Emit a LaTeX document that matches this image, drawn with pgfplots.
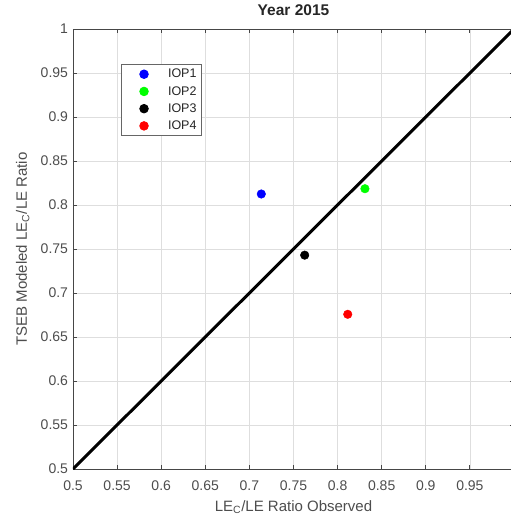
\documentclass[border=0pt]{standalone}
\usepackage{pgfplots}
\pgfplotsset{compat=1.18}
\usepackage{fontspec}
\setmainfont{Liberation Sans}
\definecolor{tickgray}{RGB}{77,77,77}
\definecolor{axgray}{RGB}{70,70,70}
\begin{document}
\begin{tikzpicture}[x=1pt,y=1pt]
\begin{axis}[name=ax, at={(0,0)}, anchor=south west,
  scale only axis, width=441pt, height=440pt,
  xmin=0.5, xmax=1, ymin=0.5, ymax=1,
  xtick={0.5,0.55,0.6,0.65,0.7,0.75,0.8,0.85,0.9,0.95},
  ytick={0.5,0.55,0.6,0.65,0.7,0.75,0.8,0.85,0.9,0.95,1},
  /pgf/number format/fixed,
  /pgf/number format/assume math mode=true,
  tick align=inside, major tick length=4pt,
  grid=major, grid style={draw=black!13, line width=0.6pt},
  axis line style={draw=axgray, line width=0.8pt},
  tick style={draw=axgray, line width=0.8pt},
  ticklabel style={font=\fontsize{14}{14}\selectfont, text=tickgray},
  xticklabel style={anchor=base, yshift=-21pt},
  yticklabel style={anchor=east, xshift=-1.5pt},
  title={\textbf{Year 2015}},
  title style={at={([yshift=8pt]axis description cs:0.5,1)}, anchor=base, font=\fontsize{15.5}{15.5}\selectfont, text=black!85},
  xlabel={LE\textsubscript{C}/LE Ratio Observed},
  xlabel style={at={([yshift=-42pt]axis description cs:0.5,0)}, anchor=base, font=\fontsize{15}{15}\selectfont, text=tickgray},
  ylabel={TSEB Modeled LE\textsubscript{C}/LE Ratio},
  ylabel style={at={([xshift=-46pt]axis description cs:0,0.5)}, anchor=base, rotate=0, font=\fontsize{15}{15}\selectfont, text=tickgray},
  legend style={at={(axis description cs:0.108,0.920)}, anchor=north west,
    draw=black!60, line width=0.8pt, font=\fontsize{12.5}{12.5}\selectfont, text=black!85,
    inner xsep=3pt, inner ysep=2.5pt, row sep=3pt},
  legend cell align=left,
  legend image code/.code={\path[mark repeat=2,mark phase=2,#1] plot coordinates {(0pt,0pt)(20pt,0pt)(42pt,0pt)};},
]
\addplot[black, line width=3pt, forget plot] coordinates {(0.5,0.5) (1,1)};
\addplot[draw=none, mark=*, mark size=4.3pt, mark options={draw=blue, fill=blue}] coordinates {(0.7135,0.8125)};
\addlegendentry{IOP1}
\addplot[draw=none, mark=*, mark size=4.3pt, mark options={draw=green, fill=green}] coordinates {(0.831,0.8185)};
\addlegendentry{IOP2}
\addplot[draw=none, mark=*, mark size=4.3pt, mark options={draw=black, fill=black}] coordinates {(0.7627,0.743)};
\addlegendentry{IOP3}
\addplot[draw=none, mark=*, mark size=4.3pt, mark options={draw=red, fill=red}] coordinates {(0.8115,0.6758)};
\addlegendentry{IOP4}
\end{axis}
\pgfresetboundingbox
\path ([shift={(-73pt,-46pt)}]ax.south west) rectangle ([shift={(438pt,469pt)}]ax.south west);
\end{tikzpicture}
\end{document}
